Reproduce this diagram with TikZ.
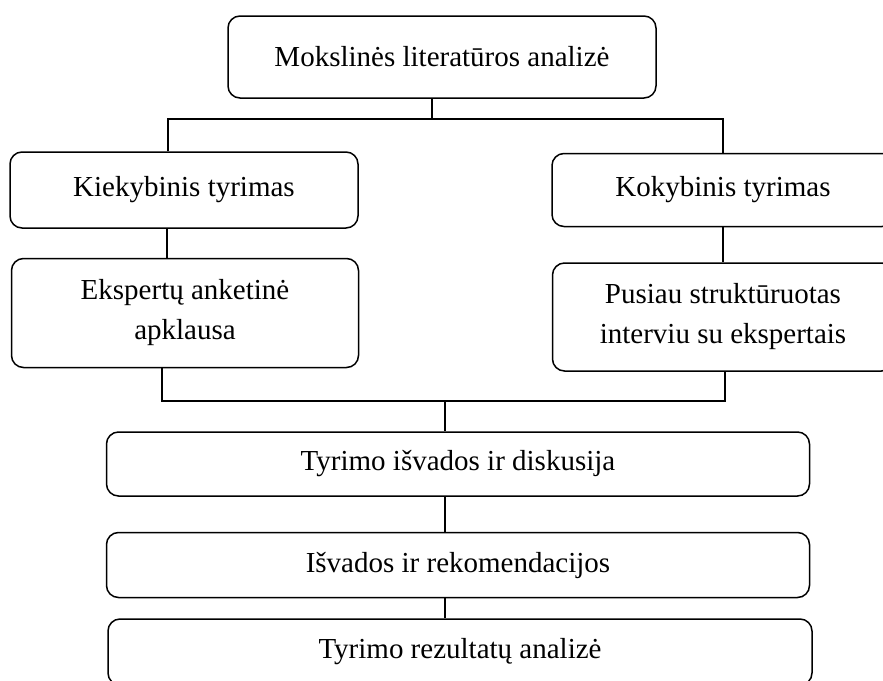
\documentclass[tikz,border=0pt]{standalone}
\usepackage{fontspec}
\setmainfont{Liberation Serif}
\begin{document}
\begin{tikzpicture}[x=1pt,y=-1pt,
  box/.style={draw, rounded corners=12pt, line width=1.5pt, align=center,
    inner sep=0pt, font=\fontsize{29}{40}\selectfont},
  line/.style={line width=1.5pt}]
  \clip (0,0) rectangle (883,680);
  \node[box, minimum width=428pt, minimum height=82pt] (lit) at (442,57) {Mokslinės literatūros analizė};
  \node[box, minimum width=348pt, minimum height=76pt] (kiek) at (184,190) {Kiekybinis tyrimas};
  \node[box, minimum width=342pt, minimum height=73pt] (koky) at (723,190) {Kokybinis tyrimas};
  \node[box, minimum width=347pt, minimum height=109pt] (eksp) at (185,313) {Ekspertų anketinė\\apklausa};
  \node[box, minimum width=341pt, minimum height=108pt] (pusiau) at (723,317) {Pusiau struktūruotas\\interviu su ekspertais};
  \node[box, minimum width=703pt, minimum height=64pt] (isv) at (458,464) {Tyrimo išvados ir diskusija};
  \node[box, minimum width=703pt, minimum height=65pt] (rek) at (458,565) {Išvados ir rekomendacijos};
  \node[box, minimum width=704pt, minimum height=66pt] (rez) at (460,652) {Tyrimo rezultatų analizė};
  \coordinate (fork) at (432,119);
  \coordinate (join) at (445,401);
  \draw[line] (fork |- lit.south) -- (fork);
  \draw[line] ([xshift=-16pt]kiek.north) |- (fork) -| (koky.north);
  \draw[line] ([xshift=-17pt]kiek.south) -- ([xshift=-18pt]eksp.north);
  \draw[line] (koky.south) -- (pusiau.north);
  \draw[line] ([xshift=-23pt]eksp.south) |- (join) -| ([xshift=2pt]pusiau.south);
  \draw[line] (join) -- ([xshift=-13pt]isv.north);
  \draw[line] ([xshift=-13pt]isv.south) -- ([xshift=-13pt]rek.north);
  \draw[line] ([xshift=-13pt]rek.south) -- ([xshift=-15pt]rez.north);
\end{tikzpicture}
\end{document}
